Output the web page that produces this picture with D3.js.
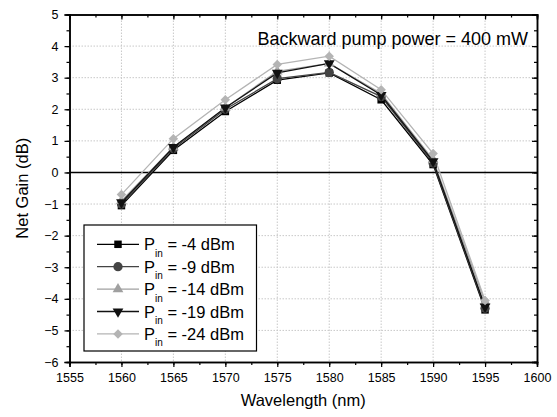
<!DOCTYPE html>
<html>
<head>
<meta charset="utf-8">
<script src="https://cdn.jsdelivr.net/npm/d3@7"></script>
<style>
  body { margin: 0; background: #fff; }
  svg { font-family: Arial, "Liberation Sans", sans-serif; }
</style>
</head>
<body>
<svg id="chart" width="557" height="417"></svg>
<script>
// data
let wavelengths = [1560, 1565, 1570, 1575, 1580, 1585, 1590, 1595];
let pin4  = [-1.05, 0.70, 1.93, 2.92, 3.15, 2.30, 0.25, -4.35];
let pin9  = [-1.00, 0.75, 2.00, 2.97, 3.17, 2.40, 0.30, -4.30];
let pin14 = [-0.90, 0.80, 2.05, 3.20, 3.45, 2.50, 0.40, -4.10];
let pin19 = [-0.95, 0.80, 2.05, 3.15, 3.45, 2.45, 0.35, -4.25];
let pin24 = [-0.70, 1.07, 2.30, 3.42, 3.68, 2.62, 0.60, -4.05];
let seriesNames = ['-4', '-9', '-14', '-19', '-24'];
let xTicks = [1555, 1560, 1565, 1570, 1575, 1580, 1585, 1590, 1595, 1600];
let yTicks = [-6, -5, -4, -3, -2, -1, 0, 1, 2, 3, 4, 5];

let series = [
	{ name: seriesNames[0], vals: pin4,  color: '#000000', marker: 'square' },
	{ name: seriesNames[1], vals: pin9,  color: '#444444', marker: 'circle' },
	{ name: seriesNames[2], vals: pin14, color: '#a0a0a0', marker: 'up' },
	{ name: seriesNames[3], vals: pin19, color: '#111111', marker: 'down' },
	{ name: seriesNames[4], vals: pin24, color: '#b4b4b4', marker: 'diamond' }
];

let plotL = 69.5, plotR = 537, plotT = 14.5, plotB = 362;
let svg = d3.select('#chart');

let xScale = d3.scaleLinear().domain([1555, 1600]).range([plotL, plotR]);
let yScale = d3.scaleLinear().domain([-6, 5]).range([plotB, plotT]);

// grid
let grid = svg.append('g');
grid.selectAll('line.gx')
	.data(xTicks.slice(1, -1))
	.enter().append('line')
	.attr('x1', d => xScale(d)).attr('x2', d => xScale(d))
	.attr('y1', plotT).attr('y2', plotB)
	.attr('stroke', '#c8c8c8').attr('stroke-width', 1).attr('stroke-dasharray', '1.5,1.5');
grid.selectAll('line.gy')
	.data(yTicks.slice(1, -1).filter(d => d != 0))
	.enter().append('line')
	.attr('x1', plotL).attr('x2', plotR)
	.attr('y1', d => yScale(d)).attr('y2', d => yScale(d))
	.attr('stroke', '#c8c8c8').attr('stroke-width', 1).attr('stroke-dasharray', '1.5,1.5');

// zero line
svg.append('line')
	.attr('x1', plotL).attr('x2', plotR)
	.attr('y1', yScale(0)).attr('y2', yScale(0))
	.attr('stroke', '#000').attr('stroke-width', 1.5);

// axes
let xMinor = d3.range(1555, 1600.1, 2.5);
let yMinor = d3.range(-6, 5.1, 0.5);

function styleAxis(g) {
	g.select('.domain').attr('stroke', '#000').attr('stroke-width', 1.5);
	g.selectAll('.tick line').attr('stroke', '#000').attr('stroke-width', 1.2);
	g.selectAll('.tick text').attr('font-size', 12.5).attr('fill', '#000')
		.attr('font-family', 'Arial, "Liberation Sans", sans-serif');
}

// minor ticks
svg.append('g').attr('transform', `translate(0,${plotB})`)
	.call(d3.axisBottom(xScale).tickValues(xMinor).tickSize(3).tickFormat(''))
	.call(styleAxis);
svg.append('g').attr('transform', `translate(0,${plotT})`)
	.call(d3.axisBottom(xScale).tickValues(xMinor).tickSize(3).tickFormat(''))
	.call(styleAxis);
svg.append('g').attr('transform', `translate(${plotL},0)`)
	.call(d3.axisLeft(yScale).tickValues(yMinor).tickSize(3).tickFormat(''))
	.call(styleAxis);
svg.append('g').attr('transform', `translate(${plotR},0)`)
	.call(d3.axisLeft(yScale).tickValues(yMinor).tickSize(3).tickFormat(''))
	.call(styleAxis);

// major ticks
svg.append('g').attr('transform', `translate(0,${plotB})`)
	.call(d3.axisBottom(xScale).tickValues(xTicks).tickSize(5).tickPadding(6).tickFormat(d3.format('d')))
	.call(styleAxis);
svg.append('g').attr('transform', `translate(0,${plotT})`)
	.call(d3.axisBottom(xScale).tickValues(xTicks).tickSize(5).tickFormat(''))
	.call(styleAxis);
svg.append('g').attr('transform', `translate(${plotL},0)`)
	.call(d3.axisLeft(yScale).tickValues(yTicks).tickSize(5).tickPadding(6).tickFormat(d3.format('d')))
	.call(styleAxis);
svg.append('g').attr('transform', `translate(${plotR},0)`)
	.call(d3.axisLeft(yScale).tickValues(yTicks).tickSize(5).tickFormat(''))
	.call(styleAxis);

// axis titles
svg.append('text')
	.attr('x', (plotL + plotR) / 2).attr('y', 406)
	.attr('text-anchor', 'middle').attr('font-size', 16.5)
	.text('Wavelength (nm)');
svg.append('text')
	.attr('transform', `translate(28,${(plotT + plotB) / 2}) rotate(-90)`)
	.attr('text-anchor', 'middle').attr('font-size', 16.5)
	.text('Net Gain (dB)');

svg.append('text')
	.attr('x', 528).attr('y', 45)
	.attr('text-anchor', 'end').attr('font-size', 18)
	.text('Backward pump power = 400 mW');

// markers
function markerPath(type) {
	let sym = {
		square: d3.symbolSquare,
		circle: d3.symbolCircle,
		up: d3.symbolTriangle,
		down: d3.symbolTriangle,
		diamond: d3.symbolSquare
	}[type];
	let size = { square: 56, circle: 68, up: 50, down: 50, diamond: 45 }[type];
	return d3.symbol().type(sym).size(size)();
}
function markerRot(type) {
	if (type == 'down') return ' rotate(180)';
	if (type == 'diamond') return ' rotate(45)';
	return '';
}

let line = d3.line()
	.x((d, i) => xScale(wavelengths[i]))
	.y(d => yScale(d));

series.forEach(s => {
	svg.append('path')
		.attr('d', line(s.vals))
		.attr('fill', 'none')
		.attr('stroke', s.color)
		.attr('stroke-width', 1.3);
});
series.forEach(s => {
	svg.append('g').selectAll('path')
		.data(s.vals)
		.enter().append('path')
		.attr('d', markerPath(s.marker))
		.attr('transform', (d, i) => `translate(${xScale(wavelengths[i])},${yScale(d)})` + markerRot(s.marker))
		.attr('fill', s.color);
});

// legend
let legend = svg.append('g');
legend.append('rect')
	.attr('x', 84).attr('y', 225)
	.attr('width', 172.5).attr('height', 126)
	.attr('fill', '#fff').attr('stroke', '#000').attr('stroke-width', 1.2);

series.forEach((s, i) => {
	let y = 244.3 + i * 22.4;
	legend.append('line')
		.attr('x1', 97).attr('x2', 139).attr('y1', y).attr('y2', y)
		.attr('stroke', s.color).attr('stroke-width', 1.3);
	legend.append('path')
		.attr('d', markerPath(s.marker))
		.attr('transform', `translate(118,${y})` + markerRot(s.marker))
		.attr('fill', s.color);
	let t = legend.append('text')
		.attr('x', 144).attr('y', y + 6)
		.attr('font-size', 16.5);
	t.append('tspan').text('P');
	t.append('tspan').attr('font-size', 10).attr('dy', 6.5).text('in');
	t.append('tspan').attr('dy', -6.5).text(` = ${s.name} dBm`);
});
</script>
</body>
</html>
